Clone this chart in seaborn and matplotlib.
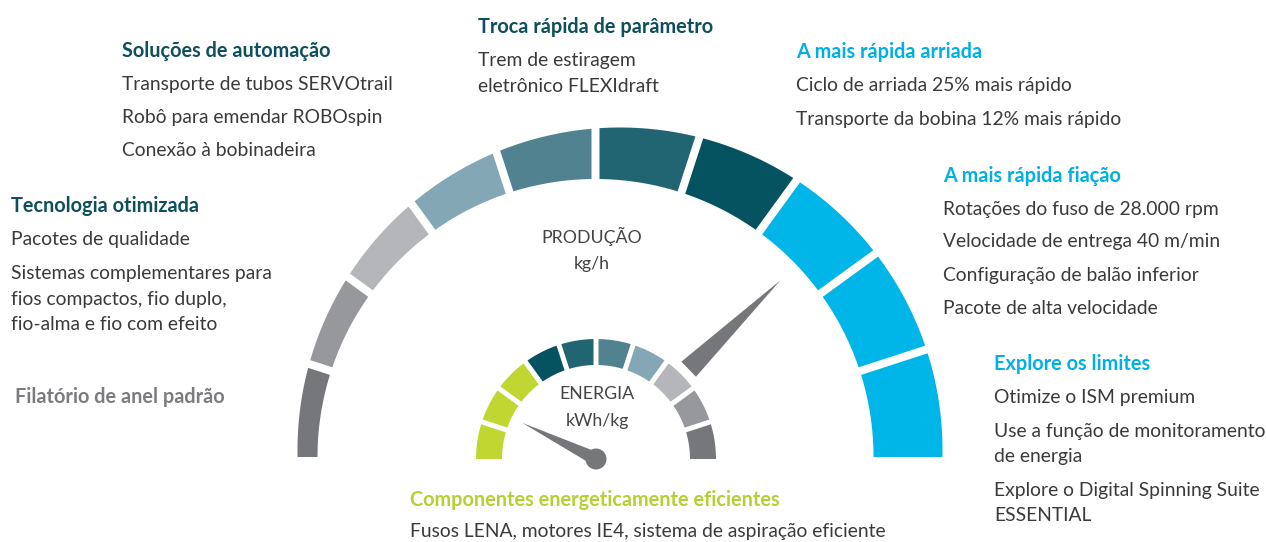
import numpy as np
import matplotlib
matplotlib.use("Agg")
import matplotlib.pyplot as plt
import seaborn as sns

# gauge segments, from the left end of each scale to the right end
prod_colors = ["#76777b", "#97989c", "#b5b6ba", "#84a7b5", "#508290",
               "#216573", "#055260", "#00b5e8", "#00b5e8", "#00b5e8"]
energy_colors = ["#bfd730", "#bfd730", "#bfd730", "#055260", "#216573",
                 "#508290", "#84a7b5", "#b5b6ba", "#97989c", "#76777b"]

# needle readings as share of the scale (0 = left end, 1 = right end)
prod_needle = 0.755
energy_needle = 0.145

prod_label = ["PRODUÇÃO", "kg/h"]
energy_label = ["ENERGIA", "kWh/kg"]

# text blocks
auto_title = "Soluções de automação"
auto_items = ["Transporte de tubos SERVOtrail", "Robô para emendar ROBOspin",
              "Conexão à bobinadeira"]
tech_title = "Tecnologia otimizada"
tech_items = ["Pacotes de qualidade",
              "Sistemas complementares para\nfios compactos, fio duplo,\nfio-alma e fio com efeito"]
std_title = "Filatório de anel padrão"
draft_title = "Troca rápida de parâmetro"
draft_items = ["Trem de estiragem\neletrônico FLEXIdraft"]
doff_title = "A mais rápida arriada"
doff_items = ["Ciclo de arriada 25% mais rápido", "Transporte da bobina 12% mais rápido"]
spin_title = "A mais rápida fiação"
spin_items = ["Rotações do fuso de 28.000 rpm", "Velocidade de entrega 40 m/min",
              "Configuração de balão inferior", "Pacote de alta velocidade"]
limit_title = "Explore os limites"
limit_items = ["Otimize o ISM premium", "Use a função de monitoramento\nde energia",
               "Explore o Digital Spinning Suite\nESSENTIAL"]
eco_title = "Componentes energeticamente eficientes"
eco_items = ["Fusos LENA, motores IE4, sistema de aspiração eficiente"]

sns.set_theme(style="white")
plt.rcParams["font.family"] = ["Lato", "DejaVu Sans"]

DARK = "#0d4f5c"
BLUE = "#00b0e4"
GREY = "#7b7c80"
GREEN = "#b4d033"
BODY = "#3a3a3a"
NEEDLE = "#76777b"

fig = plt.figure(figsize=(12.66, 5.42), dpi=100)
ax = fig.add_axes([0, 0, 1, 1])
ax.set_xlim(0, 1266)
ax.set_ylim(542, 0)
ax.set_aspect("equal")
ax.axis("off")


def pt(cx, cy, r, a):
    return cx + r * np.cos(a), cy - r * np.sin(a)


def ring(cx, cy, r_in, r_out, colors, gap):
    n = len(colors)
    edges = np.linspace(np.pi, 0, n + 1)
    for i, col in enumerate(colors):
        a0, a1 = edges[i], edges[i + 1]
        g0 = 0 if i == 0 else gap / 2
        g1 = 0 if i == n - 1 else gap / 2
        # inner arc, left to right
        ai = np.linspace(a0 - np.arcsin(g0 / r_in), a1 + np.arcsin(g1 / r_in), 40)
        xi, yi = pt(cx, cy, r_in, ai)
        # outer arc, back again
        ao = np.linspace(a1 + np.arcsin(g1 / r_out(a1)), a0 - np.arcsin(g0 / r_out(a0)), 40)
        xo, yo = pt(cx, cy, r_out(ao), ao)
        ax.fill(np.r_[xi, xo], np.r_[yi, yo], color=col, lw=0)


def needle(cx, cy, value, r_base, r_tip, half_w, color):
    a = np.pi * (1 - value)
    bx, by = pt(cx, cy, r_base, a)
    tx, ty = pt(cx, cy, r_tip, a)
    nx, ny = np.sin(a), np.cos(a)
    ax.fill([bx + half_w * nx, tx, bx - half_w * nx],
            [by + half_w * ny, ty, by - half_w * ny], color=color, lw=0)


# production scale: inner edge round the pivot, outer edge on an offset circle
pcx, pcy, p_rin = 595.5, 457.0, 278.0
ocx, ocy, o_r = 620.0, 450.0, 322.5


def prod_outer(a):
    ux, uy = np.cos(a), -np.sin(a)
    dx, dy = pcx - ocx, pcy - ocy
    du = dx * ux + dy * uy
    return -du + np.sqrt(du ** 2 - (dx ** 2 + dy ** 2) + o_r ** 2)


ring(pcx, pcy, p_rin, prod_outer, prod_colors, 8)

ecx, ecy = 596.0, 459.0
ring(ecx, ecy, 94.0, lambda a: np.full_like(np.asarray(a, float), 120.0), energy_colors, 5)

needle(ecx, ecy, prod_needle, 129, 257, 10.5, NEEDLE)
needle(ecx, ecy, energy_needle, 0, 82, 6.8, NEEDLE)
ax.add_patch(plt.Circle((ecx, ecy), 10.5, color=NEEDLE, lw=0))

# gauge captions
ax.text(592, 243, prod_label[0], ha="center", va="baseline", fontsize=12.8, color="#444444")
ax.text(592, 269, prod_label[1], ha="center", va="baseline", fontsize=12.8, color="#444444")
ax.text(597, 399, energy_label[0], ha="center", va="baseline", fontsize=12.8, color="#444444")
ax.text(597, 426, energy_label[1], ha="center", va="baseline", fontsize=12.8, color="#444444")

FS = 13.9
FS_B = 14.3


def block(x, y, title, items, color, step=33.2, wrap=25.8):
    ax.text(x, y, title, ha="left", va="baseline", fontsize=FS_B, fontweight="bold", color=color)
    y += step
    for item in items:
        lines = item.split("\n")
        for j, line in enumerate(lines):
            ax.text(x, y, line, ha="left", va="baseline", fontsize=FS, color=BODY)
            if j < len(lines) - 1:
                y += wrap
        y += step


block(122, 57.3, auto_title, auto_items, DARK, step=33)
block(11, 212.3, tech_title, tech_items, DARK)
block(15, 402.7, std_title, [], GREY)
block(478, 33, draft_title, draft_items, DARK)
block(796, 57.5, doff_title, doff_items, BLUE, step=33.5)
block(943, 181.5, spin_title, spin_items, BLUE, step=33)
block(994, 370, limit_title, limit_items, BLUE, step=33.3, wrap=25.7)
block(410, 506, eco_title, eco_items, GREEN, step=31)

fig.savefig("out.png", dpi=100)
